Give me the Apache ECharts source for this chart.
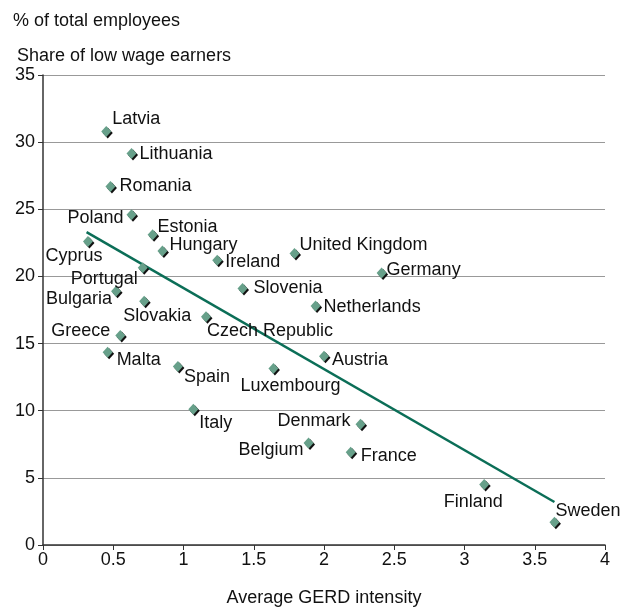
<!DOCTYPE html>
<html>
<head>
<meta charset="utf-8">
<script src="https://cdn.jsdelivr.net/npm/echarts@6/dist/echarts.min.js"></script>
<style>
  html, body { margin: 0; padding: 0; background: #fff; }
  #chart { width: 624px; height: 612px; }
</style>
</head>
<body>
<div id="chart"></div>
<script>
// values
const countries = ['Latvia', 'Lithuania', 'Romania', 'Poland', 'Estonia', 'Cyprus', 'Hungary', 'Ireland',
  'United Kingdom', 'Germany', 'Portugal', 'Slovenia', 'Bulgaria', 'Slovakia', 'Netherlands', 'Czech Republic',
  'Greece', 'Malta', 'Spain', 'Luxembourg', 'Austria', 'Italy', 'Denmark', 'Belgium', 'France', 'Finland', 'Sweden']
const gerdIntensity = [0.45, 0.63, 0.48, 0.63, 0.78, 0.32, 0.85, 1.24,
  1.79, 2.41, 0.71, 1.42, 0.52, 0.72, 1.94, 1.16,
  0.55, 0.46, 0.96, 1.64, 2.0, 1.07, 2.26, 1.89, 2.19, 3.14, 3.64]
const lowWageShare = [30.8, 29.15, 26.7, 24.6, 23.1, 22.6, 21.9, 21.2,
  21.7, 20.25, 20.65, 19.1, 18.9, 18.15, 17.8, 17.0,
  15.6, 14.35, 13.3, 13.15, 14.05, 10.1, 9.0, 7.6, 6.9, 4.5, 1.7]
const trendX = [0.31, 3.64]
const trendY = [23.3, 3.2]
const xTicks = ['0', '0.5', '1', '1.5', '2', '2.5', '3', '3.5', '4']

// where each label sits: [align, dx, dy] from the marker centre
const labelSpots = {
  'Latvia': ['left', 6, -12],
  'Lithuania': ['left', 8, 0],
  'Romania': ['left', 9, 0],
  'Poland': ['right', -8, 3],
  'Estonia': ['left', 5, -8],
  'Cyprus': ['center', -14, 15],
  'Hungary': ['left', 7, -6],
  'Ireland': ['left', 8, 2],
  'United Kingdom': ['left', 5, -9],
  'Germany': ['left', 5, -3],
  'Portugal': ['right', -5, 11],
  'Slovenia': ['left', 11, 0],
  'Bulgaria': ['right', -4, 8],
  'Slovakia': ['center', 13, 15],
  'Netherlands': ['left', 8, 1],
  'Czech Republic': ['left', 1, 14],
  'Greece': ['right', -10, -4],
  'Malta': ['left', 9, 8],
  'Spain': ['left', 6, 11],
  'Luxembourg': ['center', 17, 18],
  'Austria': ['left', 8, 4],
  'Italy': ['left', 6, 14],
  'Denmark': ['right', -10, -3],
  'Belgium': ['right', -5, 7],
  'France': ['left', 10, 4],
  'Finland': ['center', -11, 17],
  'Sweden': ['left', 1, -11]
}

const font = '"Liberation Sans", Arial, sans-serif'
const textColor = '#111'
const fontSize = 18

const points = countries.map((name, i) => {
  const spot = labelSpots[name]
  return {
    name,
    value: [gerdIntensity[i], lowWageShare[i]],
    label: {
      position: 'inside',
      align: spot[0],
      verticalAlign: 'middle',
      offset: [spot[1], spot[2]]
    }
  }
})

const chart = echarts.init(document.getElementById('chart'))
chart.setOption({
  animation: false,
  title: [
    { text: '% of total employees', left: 8, top: 7,
      textStyle: { fontFamily: font, fontSize: fontSize, fontWeight: 'normal', color: textColor } },
    { text: 'Share of low wage earners', left: 12, top: 42,
      textStyle: { fontFamily: font, fontSize: fontSize, fontWeight: 'normal', color: textColor } }
  ],
  grid: { left: 43, right: 19, top: 75, bottom: 63, containLabel: false },
  xAxis: {
    type: 'value',
    min: 0,
    max: 4,
    interval: 0.5,
    name: 'Average GERD intensity',
    nameLocation: 'middle',
    nameGap: 44,
    nameTextStyle: { fontFamily: font, fontSize: fontSize, color: textColor },
    axisLine: { lineStyle: { color: '#333', width: 1.5 } },
    axisTick: { show: true, length: 5, lineStyle: { color: '#333' } },
    axisLabel: {
      fontFamily: font, fontSize: fontSize, color: textColor, margin: 6,
      formatter: v => xTicks[Math.round(v / 0.5)]
    },
    splitLine: { show: false }
  },
  yAxis: {
    type: 'value',
    min: 0,
    max: 35,
    interval: 5,
    axisLine: { show: true, lineStyle: { color: '#333', width: 1.5 } },
    axisTick: { show: true, length: 5, lineStyle: { color: '#333' } },
    axisLabel: { fontFamily: font, fontSize: fontSize, color: textColor, margin: 8 },
    splitLine: { lineStyle: { color: '#999', width: 1 } }
  },
  series: [
    {
      type: 'line',
      data: trendX.map((x, i) => [x, trendY[i]]),
      symbol: 'none',
      lineStyle: { color: '#0b6e57', width: 2.5 },
      z: 2
    },
    {
      type: 'scatter',
      symbol: 'diamond',
      symbolSize: [10, 11],
      data: points,
      itemStyle: {
        color: '#67a08a',
        opacity: 1,
        shadowColor: '#111',
        shadowBlur: 0,
        shadowOffsetX: 1.5,
        shadowOffsetY: 1.5
      },
      emphasis: { disabled: true },
      label: {
        show: true,
        formatter: '{b}',
        fontFamily: font,
        fontSize: fontSize,
        color: textColor,
        textBorderWidth: 0
      },
      z: 3
    }
  ]
})
</script>
</body>
</html>
